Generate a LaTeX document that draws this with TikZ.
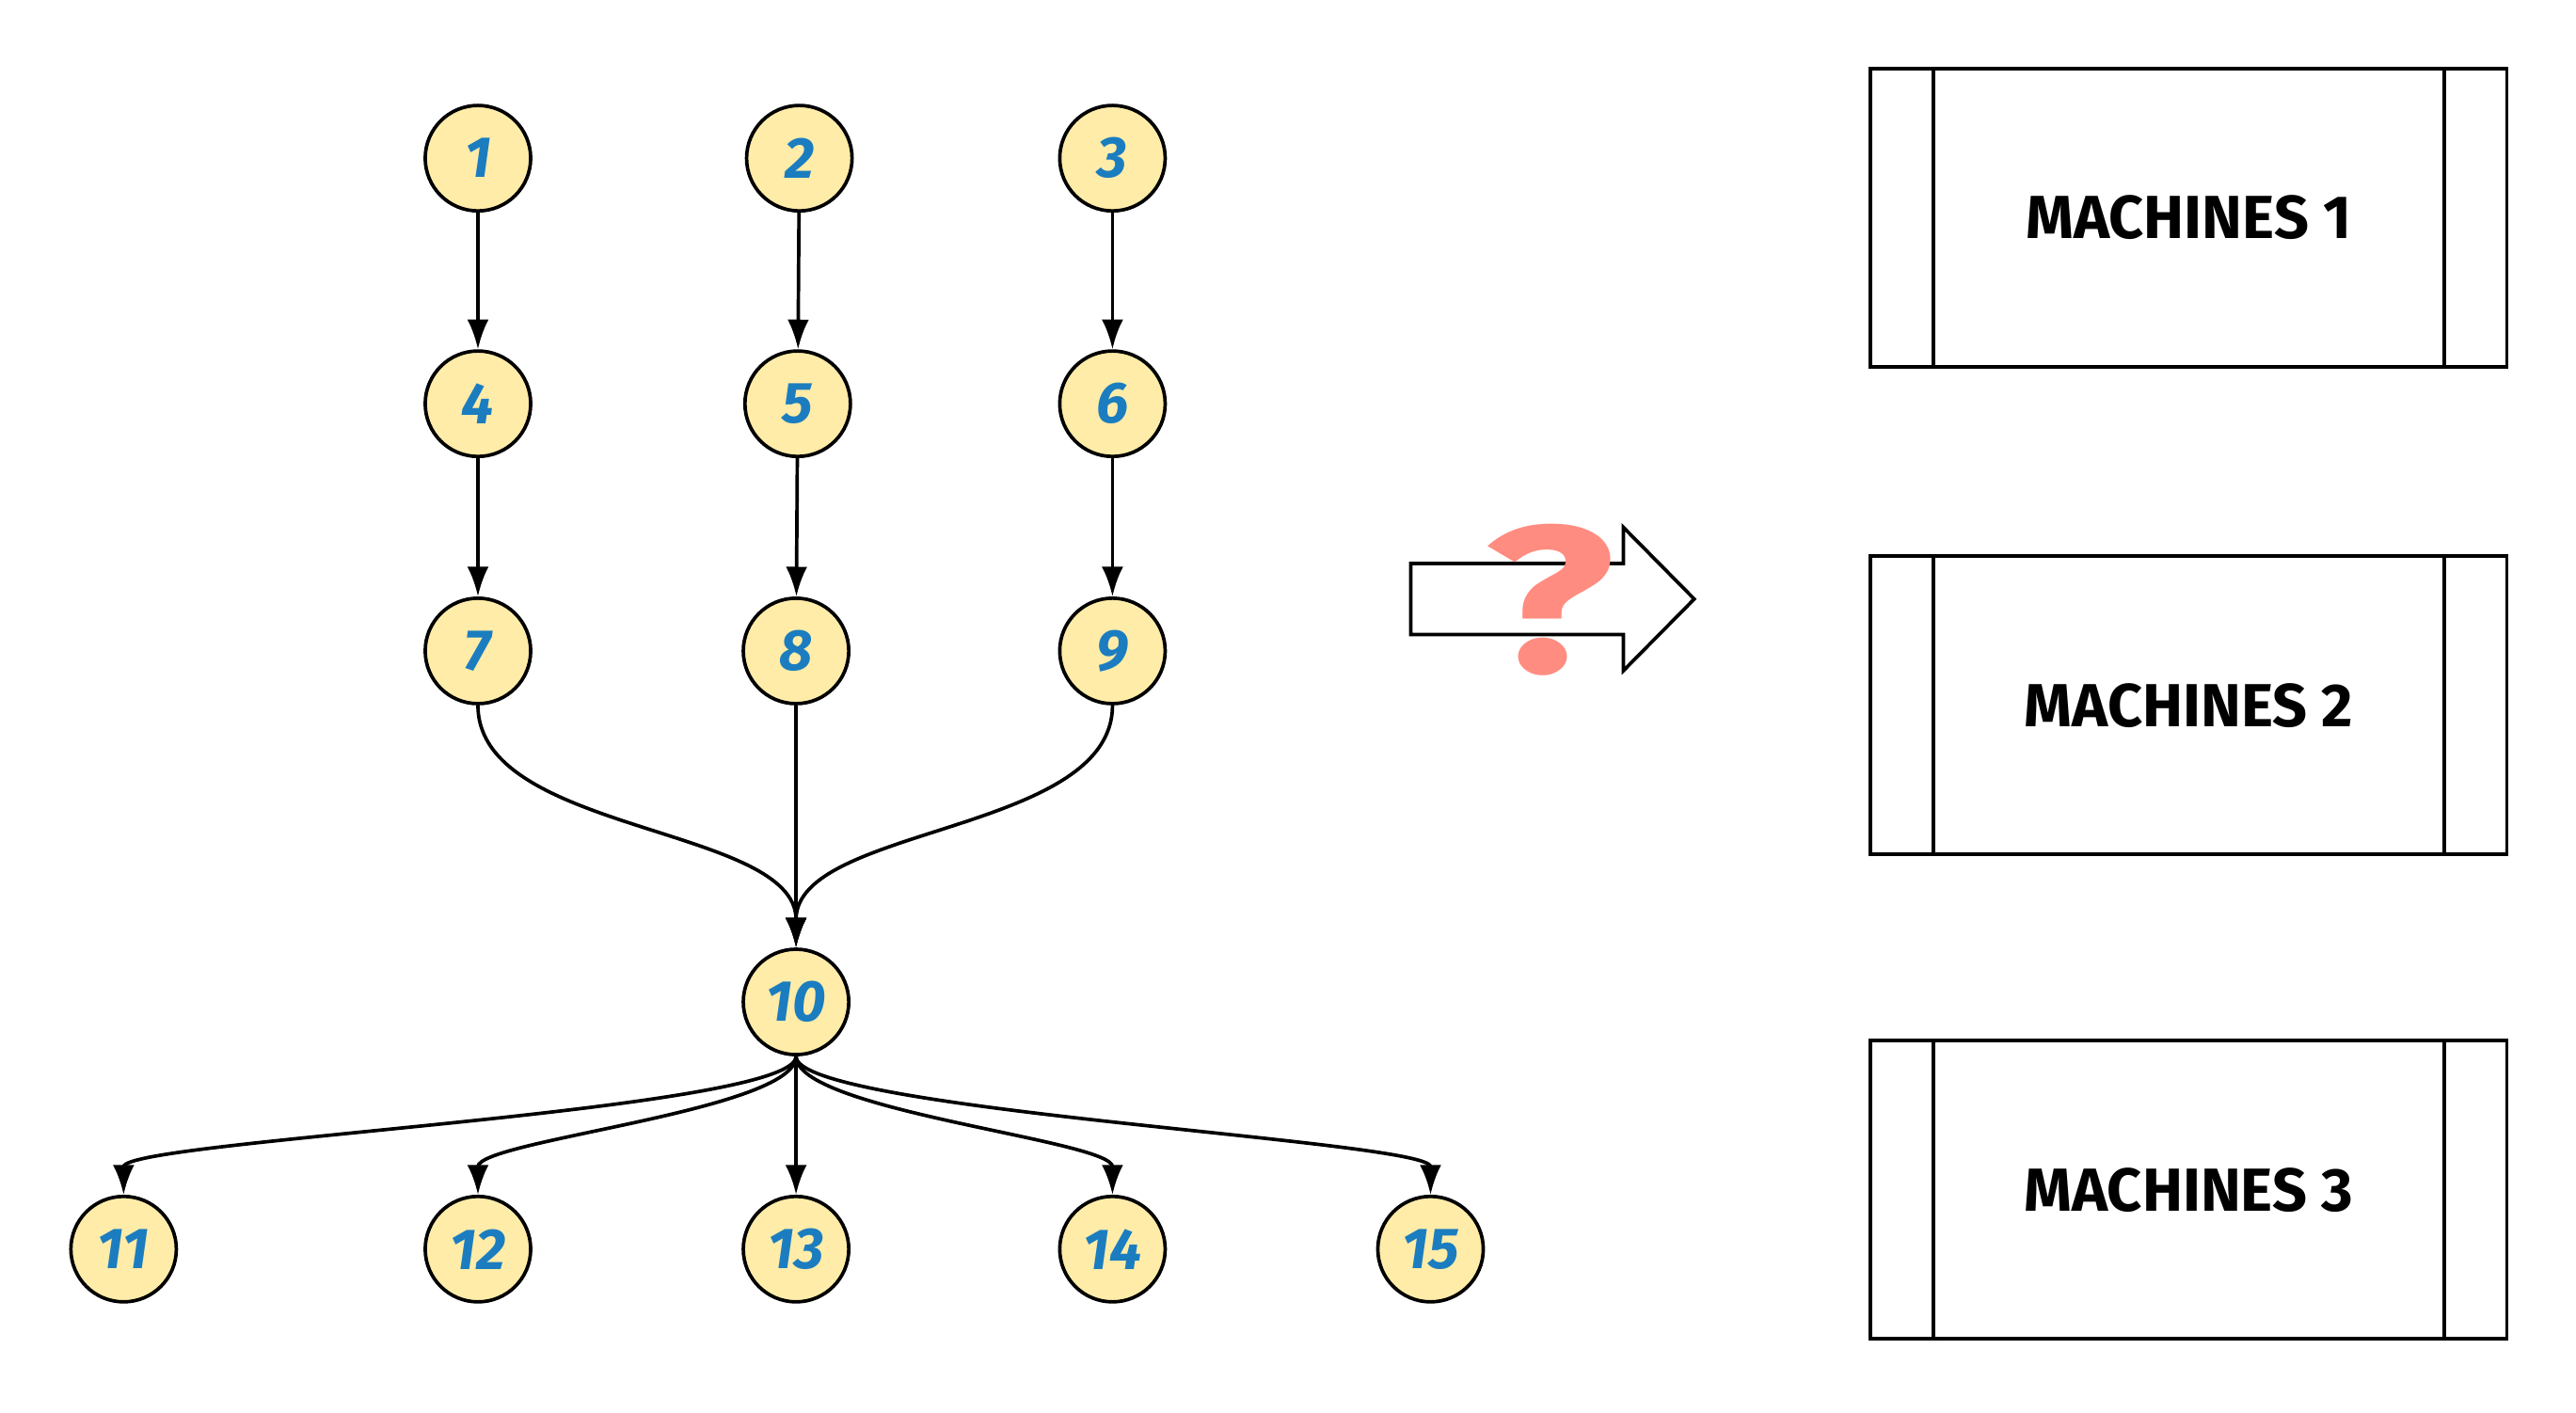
\documentclass[tikz,border=0pt]{standalone}
\usepackage{fontspec}
\setmainfont{Fira Sans}
\usepackage{tikz}
\usetikzlibrary{arrows.meta}
\usetikzlibrary{calc}
\definecolor{jobfill}{HTML}{FFECA8}
\definecolor{jobblue}{HTML}{1B7DC0}
\definecolor{asksalmon}{HTML}{FF8C80}
\tikzstyle{job} = [draw, circle, fill=jobfill,
	line width=0.6pt,
	minimum size=0.64cm,
	inner sep=0pt,
	text=jobblue,
	font=\bfseries\itshape\fontsize{10}{12}\selectfont]
\tikzstyle{arrow} =[-{Latex[length=1.8mm, width=1.3mm]}, line width=0.6pt]
\tikzstyle{machine} = [draw, line width=0.6pt,
	minimum width = 3.86cm,
	minimum height = 1.81cm,
	font=\bfseries\fontsize{10.5}{12}\selectfont]
\newcommand{\drawmachine}[3]{\node[machine] (#1) at #2 {#3};
	\draw[line width=0.6pt] ($(#1.north west)+(0.39cm,0)$) -- ($(#1.south west)+(0.39cm,0)$)
	($(#1.north east)+(-0.39cm,0)$) -- ($(#1.south east)+(-0.39cm,0)$)}

\begin{document}
\begin{tikzpicture}
	\useasboundingbox (0,0) rectangle (15.63,-8.574);
	
	\node (j1)[job] at (2.90,-0.96) {1};
	\node (j2)[job] at (4.85,-0.96) {2};
	\node (j3)[job] at (6.75,-0.96) {3};
	\node (j4)[job] at (2.90,-2.45) {4};
	\node (j5)[job] at (4.84,-2.45) {5};
	\node (j6)[job] at (6.75,-2.45) {6};
	\node (j7)[job] at (2.90,-3.95) {7};
	\node (j8)[job] at (4.83,-3.95) {8};
	\node (j9)[job] at (6.75,-3.95) {9};
	
	\draw [arrow] (j1) -- (j4);
	\draw [arrow] (j2) -- (j5);
	\draw [arrow] (j3) -- (j6);
	\draw [arrow] (j4) -- (j7);
	\draw [arrow] (j5) -- (j8);
	\draw [arrow] (j6) -- (j9);
	
	\node (j10)[job] at (4.83,-6.08) {10};
	\draw [arrow] (j7.south) .. controls +(0,-0.78) and +(0,0.74) .. (j10.north);
	\draw [arrow] (j8) -- (j10);
	\draw [arrow] (j9.south) .. controls +(0,-0.78) and +(0,0.74) .. (j10.north);
	
	\node (j11)[job] at (0.75,-7.58) {11};
	\node (j12)[job] at (2.90,-7.58) {12};
	\node (j13)[job] at (4.83,-7.58) {13};
	\node (j14)[job] at (6.75,-7.58) {14};
	\node (j15)[job] at (8.68,-7.58) {15};
	\draw [arrow] (j10.south) .. controls +(0,-0.33) and +(0,0.33) .. (j11.north);
	\draw [arrow] (j10.south) .. controls +(0,-0.33) and +(0,0.33) .. (j12.north);
	\draw [arrow] (j10) -- (j13);
	\draw [arrow] (j10.south) .. controls +(0,-0.33) and +(0,0.33) .. (j14.north);
	\draw [arrow] (j10.south) .. controls +(0,-0.33) and +(0,0.33) .. (j15.north);
	
	\drawmachine{m1}{(13.28,-1.32)}{MACHINES 1};
	\drawmachine{m2}{(13.28,-4.28)}{MACHINES 2};
	\drawmachine{m3}{(13.28,-7.22)}{MACHINES 3};
	
	% big arrow with the question mark over it
	\draw[line width=0.6pt] (8.56,-3.42) -- (9.85,-3.42) -- (9.85,-3.20) -- (10.28,-3.635)
		-- (9.85,-4.07) -- (9.85,-3.85) -- (8.56,-3.85) -- cycle;
	\node (ask)[text=asksalmon, xscale=1.3, font=\bfseries\fontsize{36}{36}\selectfont] at (9.40,-3.64) {?};
\end{tikzpicture}
\end{document}
